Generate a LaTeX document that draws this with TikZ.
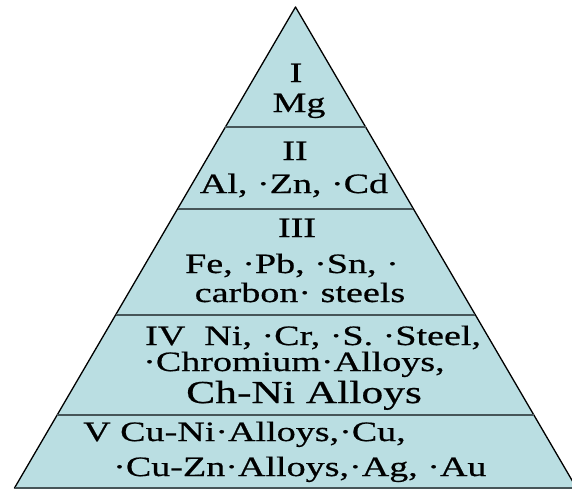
\documentclass[tikz,border=0pt]{standalone}
\usepackage{fontspec}
\setmainfont[FakeStretch=1.36,FakeBold=0.6]{Liberation Serif}
\definecolor{pyrfill}{RGB}{186,222,226}
\definecolor{tierline}{RGB}{70,85,88}
\begin{document}
\begin{tikzpicture}[x=1pt,y=-1pt,
	tier/.style={draw=tierline,line width=2.2pt},
	lbl/.style={inner sep=0pt,font=\fontsize{28}{32}\selectfont},
	biglbl/.style={inner sep=0pt,font=\fontsize{32}{36}\selectfont}]
\useasboundingbox (0,0) rectangle (572,490);

%Pyramid Body
\filldraw [fill=pyrfill,draw=black,line width=1.3pt,line join=round] (295.5,7) -- (14.5,488) -- (576.5,488) -- cycle;

%Tier Lines
\foreach \y in {127,209,315,415}
	\draw [tier] ({295.5-(\y-7)*0.584},\y) -- ({295.5+(\y-7)*0.584},\y);
\draw [tier] (14.5,488) -- (576.5,488);

%Tier I
\node [lbl,anchor=base] (numI) at (296,82) {I};
\node [lbl,anchor=base] (metI) at (299,112) {Mg};

%Tier II
\node [lbl,anchor=base] (numII) at (295,160) {II};
\node [lbl,anchor=base] (metII) at (294,193) {Al, ·Zn, ·Cd};

%Tier III
\node [lbl,anchor=base] (numIII) at (297,237) {III};
\node [lbl,anchor=base] (metIIIa) at (292,273) {Fe, ·Pb, ·Sn, ·};
\node [lbl,anchor=base] (metIIIb) at (300,302) {carbon· steels};

%Tier IV
\node [lbl,anchor=base west] (metIVa) at (145,345) {IV\ \ Ni, ·Cr, ·S. ·Steel,};
\node [lbl,anchor=base west] (metIVb) at (143,371) {·Chromium·Alloys,};
\node [biglbl,anchor=base west] (metIVc) at (186,403) {Ch-Ni Alloys};

%Tier V
\node [lbl,anchor=base west] (metVa) at (83,441) {V Cu-Ni·Alloys,·Cu,};
\node [lbl,anchor=base west] (metVb) at (113,476) {·Cu-Zn·Alloys,·Ag, ·Au};
\end{tikzpicture}
\end{document}
